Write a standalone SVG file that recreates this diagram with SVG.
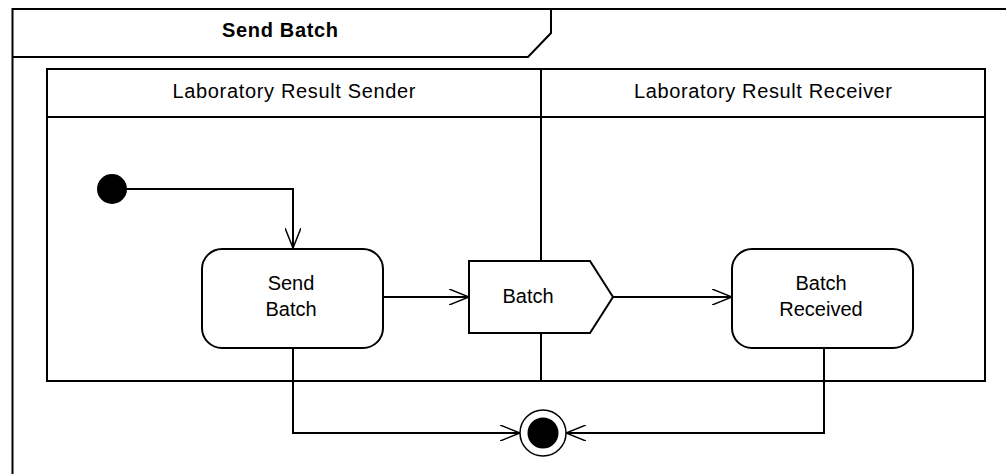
<svg xmlns="http://www.w3.org/2000/svg" width="1006" height="474" viewBox="0 0 1006 474">
<style>
.ln{fill:none;stroke:#000;stroke-width:2}
.nd{fill:#fff;stroke:#000;stroke-width:2}
.t{font-family:"Liberation Sans",Arial,sans-serif;font-size:20px;fill:#000;text-anchor:middle}
.tb{font-family:"Liberation Sans",Arial,sans-serif;font-size:20px;font-weight:bold;fill:#000;text-anchor:middle}
</style>
<defs>
<marker id="arr" viewBox="0 0 20 16" refX="20" refY="8" markerWidth="20" markerHeight="16" markerUnits="userSpaceOnUse" orient="auto">
<path d="M0,0 L20,8 L0,16" fill="none" stroke="#000" stroke-width="1.5"/>
</marker>
</defs>
<rect width="1006" height="474" fill="#fff"/>
<g id="frame">
<path class="ln" d="M12.5,480 L12.5,9 L1010,9"/>
<path class="ln" d="M12.5,57 L528,57 L551,33 L551,9"/>
<text class="tb" x="280" y="37" textLength="116" lengthAdjust="spacing">Send Batch</text>
</g>
<g id="swimlanes">
<rect class="ln" x="47" y="69" width="938" height="312"/>
<line class="ln" x1="47" y1="117" x2="985" y2="117"/>
<line class="ln" x1="541" y1="69" x2="541" y2="381"/>
<text class="t" x="294" y="98" textLength="243" lengthAdjust="spacing">Laboratory Result Sender</text>
<text class="t" x="763" y="98" textLength="258" lengthAdjust="spacing">Laboratory Result Receiver</text>
</g>
<g id="connectors">
<path class="ln" d="M112,189 L293,189 L293,248" marker-end="url(#arr)"/>
<path class="ln" d="M383,297 L469,297" marker-end="url(#arr)"/>
<path class="ln" d="M613,297 L732,297" marker-end="url(#arr)"/>
<path class="ln" d="M293,348 L293,433 L520,433" marker-end="url(#arr)"/>
<path class="ln" d="M824,348 L824,433 L566,433" marker-end="url(#arr)"/>
</g>
<g id="initial">
<circle cx="112" cy="189" r="15" fill="#000"/>
</g>
<g id="send-batch">
<rect class="nd" x="202" y="249" width="181" height="99" rx="20" ry="20"/>
<text class="t" x="291" y="290">Send</text>
<text class="t" x="291" y="316">Batch</text>
</g>
<g id="batch-object">
<path class="nd" d="M469,261 L590,261 L613,297 L590,333 L469,333 Z"/>
<text class="t" x="528" y="303">Batch</text>
</g>
<g id="batch-received">
<rect class="nd" x="732" y="249" width="181" height="99" rx="20" ry="20"/>
<text class="t" x="821" y="290">Batch</text>
<text class="t" x="821" y="316">Received</text>
</g>
<g id="final">
<circle cx="543" cy="433" r="23" fill="#fff" stroke="#000" stroke-width="1.5"/>
<circle cx="543" cy="433" r="15.5" fill="#000"/>
</g>
</svg>
